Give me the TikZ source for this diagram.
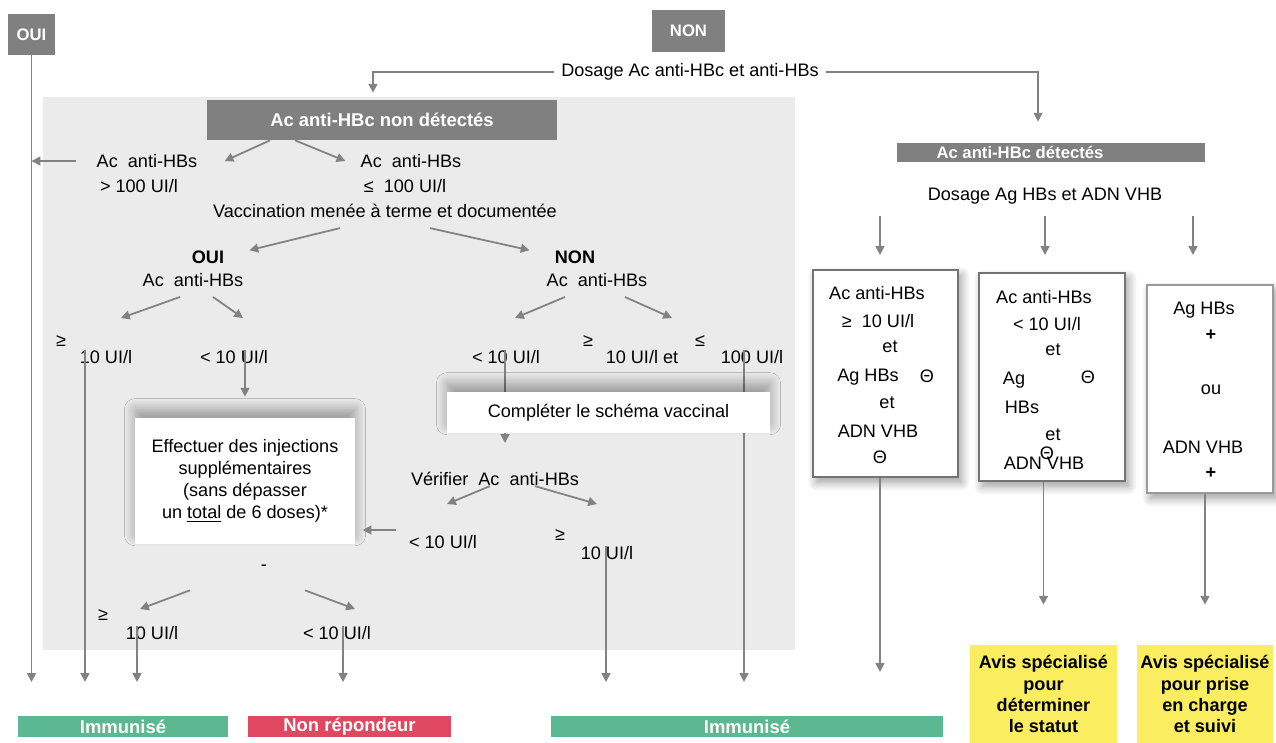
\documentclass[tikz,border=0pt]{standalone}
\usepackage{fontspec}
\setmainfont{Liberation Sans}
\usetikzlibrary{arrows.meta,shadows.blur}

\definecolor{boxgray}{RGB}{128,128,128}
\definecolor{panelgray}{RGB}{235,235,235}
\definecolor{arrgray}{RGB}{130,130,130}
\definecolor{immgreen}{RGB}{92,184,146}
\definecolor{nonred}{RGB}{224,72,98}
\definecolor{avisyellow}{RGB}{250,238,96}

\begin{document}
\begin{tikzpicture}
		[x=0.02cm, y=-0.02cm,
		every node/.style={font=\fontsize{10.3}{12.5}\selectfont, inner sep=0pt},
		darkbox/.style={fill=boxgray, text=white, font=\fontsize{10.5}{12}\selectfont\bfseries},
		whitebox/.style={fill=white, align=center, blur shadow={shadow xshift=0pt, shadow yshift=5pt, shadow blur radius=6pt, shadow blur steps=12, shadow opacity=35}},
		framebox/.style={draw=black!55, line width=0.8pt, fill=white, blur shadow={shadow xshift=2pt, shadow yshift=-3pt, shadow blur radius=5pt, shadow blur steps=12, shadow opacity=40}},
		resbar/.style={text=white, font=\fontsize{10.5}{12}\selectfont\bfseries, minimum height=0.42cm},
		avis/.style={fill=avisyellow, align=center, font=\fontsize{10.3}{12}\selectfont\bfseries, minimum height=1.96cm},
		bold/.style={font=\fontsize{10.3}{12}\selectfont\bfseries},
		arr/.style={draw=arrgray, line width=1pt, -{Triangle[length=5pt,width=5pt]}}]
		\useasboundingbox (0,0) rectangle (1276,743);
		\fill[panelgray] (43,97) rectangle (795,650);

		% heads
		\node[darkbox, font=\fontsize{9.5}{11}\selectfont\bfseries, minimum width=0.94cm, minimum height=0.82cm] (oui) at (31.5,34.5) {OUI};
		\node[darkbox, font=\fontsize{9.5}{11}\selectfont\bfseries, minimum width=1.46cm, minimum height=0.84cm] (non) at (688.5,31) {NON};
		\node (dosage1) at (690,72) {Dosage Ac anti-HBc et anti-HBs};
		\node[darkbox, minimum width=7cm, minimum height=0.8cm] (nondet) at (382,120) {Ac anti-HBc non détectés};
		\node[darkbox, font=\fontsize{9.5}{11}\selectfont\bfseries, minimum width=6.16cm, minimum height=0.38cm] (det) at (1051,152.5) {\hspace*{-1.24cm}Ac anti-HBc détectés};

		% left branch
		\node (hbsA) at (147,161) {Ac\ \ anti-HBs};
		\node (hbsAv) at (139,186) {> 100 UI/l};
		\node (hbsB) at (411,161) {Ac\ \ anti-HBs};
		\node (hbsBv) at (405,186) {≤\ \ 100 UI/l};
		\node (vacc) at (385,211) {Vaccination menée à terme et documentée};
		\node[bold] (oui2) at (208,257) {OUI};
		\node (hbsC) at (193,280) {Ac\ \ anti-HBs};
		\node[bold] (non2) at (575,257) {NON};
		\node (hbsD) at (597,280) {Ac\ \ anti-HBs};
		\node (geA) at (61,341) {≥};
		\node (tenA) at (106,357) {10 UI/l};
		\node (ltA) at (234,357) {< 10 UI/l};
		\node (ltD) at (506,357) {< 10 UI/l};
		\node (geC) at (588,341) {≥};
		\node (tenC) at (642,357) {10 UI/l et};
		\node (leC) at (700,341) {≤};
		\node (hundC) at (752,357) {100 UI/l};

		\coordinate (vchk) at (505,443);
		\coordinate (r5) at (744,682);
		\path
		(ltD.north -| vchk) edge[arr] (vchk)
		(hundC.north -| r5) edge[arr] (r5);

		\node[whitebox, minimum width=6.46cm, minimum height=0.82cm] (comp) at (608.5,412.5) {Compléter le schéma vaccinal};
		\node (verif) at (495,479) {Vérifier\ \ Ac\ \ anti-HBs};
		\node[whitebox, minimum width=4.4cm, minimum height=2.52cm] (inj) at (245,481) {Effectuer des injections\\supplémentaires\\(sans dépasser\\un \underline{total} de 6 doses)*};
		\node (ltE) at (443,542) {< 10 UI/l};
		\node (geD) at (560,535) {≥};
		\node (tenD) at (607,553) {10 UI/l};
		\node (dash) at (264,568) {-};
		\node (geB) at (103,615) {≥};
		\node (tenB) at (152,633) {10 UI/l};
		\node (ltC) at (337,633) {< 10 UI/l};

		% right branch
		\node (dosage2) at (1045,196) {Dosage Ag HBs et ADN VHB};
		\node[framebox, minimum width=2.9cm, minimum height=4.14cm] (box1) at (885.5,373.5) {};
		\node[framebox, minimum width=2.92cm, minimum height=4.16cm] (box2) at (1052,377) {};
		\node[framebox, draw=black!40, minimum width=2.52cm, minimum height=4.16cm] (box3) at (1210,389) {};

		\node (b1a) at (877,293) {Ac anti-HBs};
		\node (b1b) at (878,321) {≥\ \ 10 UI/l};
		\node (b1c) at (890,347) {et};
		\node (b1d) at (868,377) {Ag HBs};
		\node (b1e) at (927,376) {Θ};
		\node (b1f) at (887,403) {et};
		\node (b1g) at (878,431) {ADN VHB};
		\node (b1h) at (880,457) {Θ};

		\node (b2a) at (1044,297) {Ac anti-HBs};
		\node (b2b) at (1047,324) {< 10 UI/l};
		\node (b2c) at (1053,350) {et};
		\node (b2d) at (1014,380) {Ag};
		\node (b2e) at (1088,377) {Θ};
		\node (b2f) at (1022,407) {HBs};
		\node (b2g) at (1053,435) {et};
		\node (b2h) at (1044,463) {ADN VHB};
		\node (b2i) at (1047,453) {Θ};

		\node (b3a) at (1204,310) {Ag HBs};
		\node (b3b) at (1211,335) {\textbf{+}};
		\node (b3c) at (1211,390) {ou};
		\node (b3d) at (1203,447) {ADN VHB};
		\node (b3e) at (1211,473) {\textbf{+}};

		% results
		\node[resbar, fill=immgreen, minimum width=4.2cm] (imm1) at (123,726.5) {Immunisé};
		\node[resbar, fill=nonred, minimum width=4.06cm] (nonrep) at (349.5,726.5) {Non répondeur};
		\node[resbar, fill=immgreen, minimum width=7.84cm] (imm2) at (747,726.5) {Immunisé};
		\node[avis, minimum width=2.94cm] (avis1) at (1043.5,694) {Avis spécialisé\\pour\\déterminer\\le statut};
		\node[avis, minimum width=2.72cm] (avis2) at (1205,694) {Avis spécialisé\\pour prise\\en charge\\et suivi};

		\coordinate (r0) at (31.5,682);
		\coordinate (r1) at (85,682);
		\coordinate (r2) at (137,682);
		\coordinate (r3) at (343,682);
		\coordinate (r4) at (606,682);
		\coordinate (r6) at (880,672);
		\coordinate (q1) at (880,255);
		\coordinate (q2) at (1045,255);
		\coordinate (q3) at (1193,255);

		\draw[arr] (oui.south) -- (r0);
		\draw[arr, shorten >=0.14cm] ([xshift=-0.14cm]dosage1.west) -| ([xshift=-0.18cm]nondet.north);
		\draw[arr, shorten >=0.42cm] ([xshift=0.14cm]dosage1.east) -| ([xshift=-0.26cm]det.north);

		\path
		([xshift=-2.24cm]nondet.south) edge[arr] ([xshift=0.54cm]hbsA.east)
		([xshift=-1.74cm]nondet.south) edge[arr] ([xshift=-0.3cm]hbsB.west)
		([xshift=-0.4cm]hbsA.west) edge[arr] (hbsA.west -| oui.south)
		([xshift=-0.9cm,yshift=-0.2cm]vacc.south) edge[arr] ([xshift=0.5cm]oui2.north east)
		([xshift=0.9cm,yshift=-0.2cm]vacc.south) edge[arr] ([xshift=-0.5cm]non2.north west)
		([xshift=-0.26cm,yshift=-0.2cm]hbsC.south) edge[arr] ([xshift=0.3cm,yshift=0.64cm]tenA.north)
		([xshift=0.4cm,yshift=-0.2cm]hbsC.south) edge[arr] ([xshift=0.18cm,yshift=0.64cm]ltA.north)
		([xshift=-0.64cm,yshift=-0.2cm]hbsD.south) edge[arr] ([xshift=0.18cm,yshift=0.64cm]ltD.north)
		([xshift=0.56cm,yshift=-0.2cm]hbsD.south) edge[arr] ([xshift=0.6cm,yshift=0.64cm]tenC.north)
		([xshift=-0.1cm]verif.south) edge[arr] ([xshift=0.08cm,yshift=0.62cm]ltE.north)
		([xshift=0.8cm]verif.south) edge[arr] ([xshift=-0.2cm,yshift=0.84cm]tenD.north)
		([xshift=-1.1cm,yshift=-0.92cm]inj.south) edge[arr] ([xshift=-0.24cm,yshift=0.34cm]tenB.north)
		([xshift=1.2cm,yshift=-0.92cm]inj.south) edge[arr] ([xshift=0.36cm,yshift=0.34cm]ltC.north);

		\draw[arr] ([xshift=-0.26cm,yshift=0.24cm]ltE.west) -- ++(-33,0);
		\draw[arr, shorten >=0.42cm] (ltA.north -| inj.north) -- (inj.north);

		\path
		(tenA.north -| r1) edge[arr] (r1)
		(tenB.north -| r2) edge[arr] (r2)
		(ltC.north -| r3) edge[arr] (r3)
		(tenD.north -| r4) edge[arr] (r4)
		(box1.south -| r6) edge[arr] (r6);

		\path
		(dosage2.south -| q1) edge[arr, shorten <=0.24cm] (q1)
		(dosage2.south -| q2) edge[arr, shorten <=0.24cm] (q2)
		(dosage2.south -| q3) edge[arr, shorten <=0.24cm] (q3);

		\draw[arr, shorten >=0.8cm] (box2.south -| avis1.north) -- (avis1.north);
		\draw[arr, shorten >=0.8cm] (box3.south -| avis2.north) -- (avis2.north);

	\end{tikzpicture}
\end{document}
